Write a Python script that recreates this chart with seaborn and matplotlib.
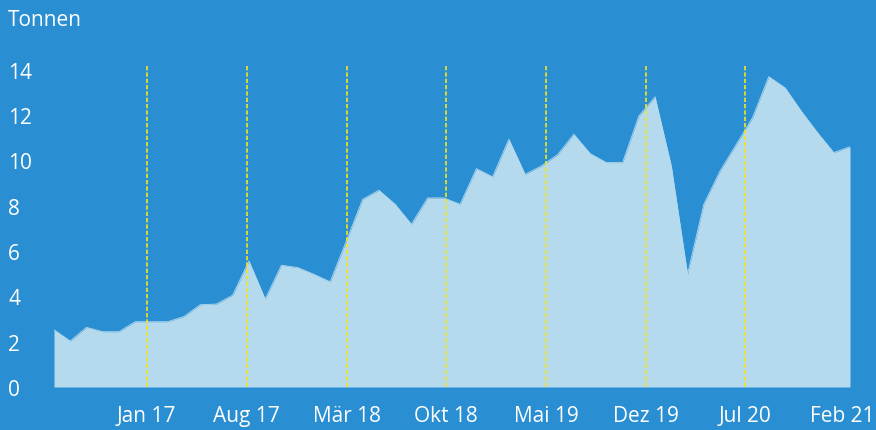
import numpy as np
import pandas as pd
import matplotlib
matplotlib.use("Agg")
import matplotlib.pyplot as plt
import seaborn as sns

# ---- data ----
tonnen = [2.52, 2.03, 2.63, 2.44, 2.44, 2.88, 2.88, 2.88, 3.11, 3.63,
          3.66, 4.05, 5.56, 3.88, 5.37, 5.27, 4.97, 4.64, 6.45, 8.28,
          8.68, 8.06, 7.18, 8.34, 8.34, 8.06, 9.63, 9.27, 10.93, 9.38,
          9.75, 10.25, 11.15, 10.30, 9.90, 9.90, 11.95, 12.80, 9.75, 4.98,
          8.06, 9.53, 10.70, 11.88, 13.69, 13.20, 12.17, 11.22, 10.34, 10.60]
tick_labels = ["Jan 17", "Aug 17", "Mär 18", "Okt 18", "Mai 19", "Dez 19", "Jul 20", "Feb 21"]
dashed_labels = ["Jan 17", "Aug 17", "Mär 18", "Okt 18", "Mai 19", "Dez 19", "Jul 20"]
y_ticks = [0, 2, 4, 6, 8, 10, 12, 14]

# layout (positions along the category axis)
tick_pos = [5.71, 11.86, 18.02, 24.13, 30.29, 36.42, 42.54, 48.55]

BG = "#2a8fd2"
FILL = "#b5daee"
YEL = "#f7e41a"
FONT = ["Open Sans", "DejaVu Sans"]

sns.set_theme(style="white")
plt.rcParams["font.family"] = FONT
plt.rcParams["axes.facecolor"] = BG
plt.rcParams["figure.facecolor"] = BG

df = pd.DataFrame({"idx": np.arange(len(tonnen)), "tonnen": tonnen})

fig = plt.figure(figsize=(8.76, 4.31), dpi=100)
W, H = 876, 431
ax = fig.add_axes([54 / W, 1 - 388 / H, (850 - 54) / W, (388 - 65) / H])
ax.set_facecolor(BG)

ax.fill_between(df["idx"], 0, df["tonnen"], color=FILL, linewidth=0, zorder=1)
sns.lineplot(data=df, x="idx", y="tonnen", ax=ax, color=FILL, linewidth=0.6, zorder=2)

label_to_pos = dict(zip(tick_labels, tick_pos))
for lab in dashed_labels:
    ax.axvline(label_to_pos[lab], color=YEL, linewidth=1.2, dashes=(2.6, 1.2), zorder=3)

ax.set_xlim(0, len(tonnen) - 1)
ax.set_ylim(0, 14.25)

ax.set_xticks(tick_pos)
ax.set_xticklabels(tick_labels)
ax.set_yticks(y_ticks)
ax.set_yticklabels([str(v) for v in y_ticks])
ax.tick_params(axis="both", length=0, colors="white", labelsize=15)
ax.tick_params(axis="x", pad=13)
ax.tick_params(axis="y", pad=33)
for t in ax.get_yticklabels():
    t.set_horizontalalignment("left")
ax.set_xlabel("")
ax.set_ylabel("")
for s in ax.spines.values():
    s.set_visible(False)
ax.grid(False)

fig.text(8 / W, 1 - 20 / H, "Tonnen", color="white", fontsize=15, ha="left", va="center")

fig.savefig("out.png", dpi=100, facecolor=BG)
